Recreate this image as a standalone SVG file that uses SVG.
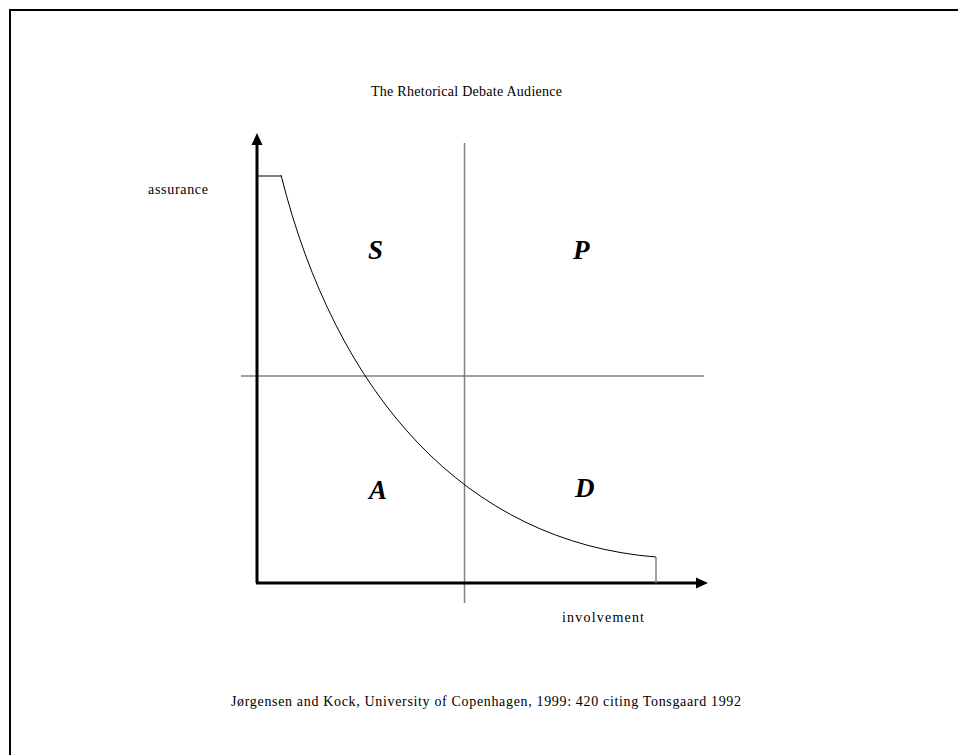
<svg xmlns="http://www.w3.org/2000/svg" width="958" height="755" viewBox="0 0 958 755">
<style>
text{font-family:"Liberation Serif","Times New Roman",serif;fill:#000}
.lbl{font-size:14px}
.q{font-size:27px;font-weight:bold;font-style:italic}
.axis{stroke:#000;stroke-width:3;fill:none}
.grid{stroke:#808080;stroke-width:1.5;fill:none}
.thin{stroke:#000;stroke-width:1;fill:none}
</style>
<rect x="0" y="0" width="958" height="755" fill="#fff"/>
<path d="M10,760 V10 H960" fill="none" stroke="#000" stroke-width="2"/>
<g id="title"><text class="lbl" x="371" y="96" textLength="191" lengthAdjust="spacing">The Rhetorical Debate Audience</text></g>
<g id="connectors">
<line class="grid" x1="464.5" y1="143" x2="464.5" y2="603"/>
<line class="grid" x1="241" y1="376" x2="704" y2="376"/>
<line class="axis" x1="257" y1="583" x2="257" y2="145"/>
<polygon points="257,133 251.5,145 262.5,145" fill="#000"/>
<line class="axis" x1="256" y1="583" x2="696" y2="583"/>
<polygon points="708,583 696,577.5 696,588.5" fill="#000"/>
<path class="thin" d="M258,176 H281"/>
<path class="thin" d="M281,175 C336,395 466,542 656,557"/>
<path class="grid" d="M656,557 V583"/>
</g>
<g id="assurance"><text class="lbl" x="148" y="194" textLength="60" lengthAdjust="spacing">assurance</text></g>
<g id="involvement"><text class="lbl" x="562" y="622" textLength="82" lengthAdjust="spacing">involvement</text></g>
<g id="S"><text class="q" x="368" y="259">S</text></g>
<g id="P"><text class="q" x="573" y="259">P</text></g>
<g id="A"><text class="q" x="369" y="499">A</text></g>
<g id="D"><text class="q" x="575" y="497">D</text></g>
<g id="citation"><text class="lbl" x="231" y="706" textLength="510" lengthAdjust="spacing">Jørgensen and Kock, University of Copenhagen, 1999: 420 citing Tonsgaard 1992</text></g>
</svg>
